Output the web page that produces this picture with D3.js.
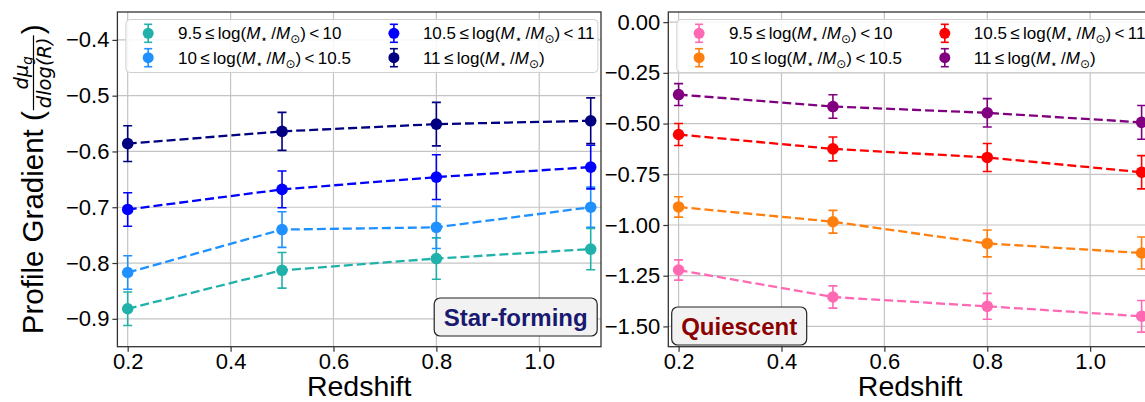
<!DOCTYPE html>
<html>
<head>
<meta charset="utf-8">
<script src="https://cdn.jsdelivr.net/npm/d3@7"></script>
<style>
  html, body { margin: 0; padding: 0; background: #ffffff; }
  svg { display: block; font-family: "Liberation Sans", Arial, sans-serif; }
</style>
</head>
<body>
<svg id="chart" width="1145" height="402"></svg>
<script>
// ---------------- data ----------------
const redshift = [0.2, 0.5, 0.8, 1.1];
const xTicks = [0.2, 0.4, 0.6, 0.8, 1.0];
const sfYTicks = [-0.9, -0.8, -0.7, -0.6, -0.5, -0.4];
const qYTicks = [-1.5, -1.25, -1.0, -0.75, -0.5, -0.25, 0.0];

const massLabels = [
  ["9.5", "10"],
  ["10", "10.5"],
  ["10.5", "11"],
  ["11", null]
];

// star-forming
const sfBin1 = [-0.882, -0.813, -0.792, -0.775];
const sfBin1Err = [0.030, 0.032, 0.037, 0.037];
const sfBin2 = [-0.817, -0.740, -0.736, -0.700];
const sfBin2Err = [0.030, 0.032, 0.038, 0.036];
const sfBin3 = [-0.704, -0.668, -0.646, -0.628];
const sfBin3Err = [0.030, 0.033, 0.040, 0.039];
const sfBin4 = [-0.586, -0.564, -0.551, -0.545];
const sfBin4Err = [0.032, 0.034, 0.039, 0.041];

// quiescent
const qBin1 = [-1.222, -1.355, -1.401, -1.450];
const qBin1Err = [0.050, 0.055, 0.064, 0.078];
const qBin2 = [-0.911, -0.984, -1.091, -1.138];
const qBin2Err = [0.050, 0.056, 0.066, 0.079];
const qBin3 = [-0.554, -0.625, -0.667, -0.740];
const qBin3Err = [0.054, 0.059, 0.069, 0.082];
const qBin4 = [-0.357, -0.416, -0.447, -0.494];
const qBin4Err = [0.054, 0.058, 0.070, 0.083];

const sfColors = ["#20b2aa", "#1e90ff", "#0000ff", "#000080"];
const qColors = ["#ff69b4", "#ff7f0e", "#ff0000", "#800080"];

// ---------------- layout ----------------
const svg = d3.select("#chart");
const TOP = 12, BOTTOM = 346.7, WIDTH = 483.6;
const MINUS = "\u2212";

function fmt(d, digits) {
  const s = Math.abs(d).toFixed(digits);
  return (d < -1e-9 ? MINUS : "") + s;
}

function drawPanel(opt) {
  const g = svg.append("g");
  const x = d3.scaleLinear().domain([0.18, 1.12]).range([opt.left, opt.left + WIDTH]);
  const y = d3.scaleLinear().domain(opt.ydomain).range([BOTTOM, TOP]);

  const clipId = "clip" + opt.id;
  svg.append("clipPath").attr("id", clipId).append("rect")
    .attr("x", opt.left).attr("y", TOP).attr("width", WIDTH).attr("height", BOTTOM - TOP);

  // grid
  g.append("g").selectAll("line").data(xTicks).join("line")
    .attr("x1", d => x(d)).attr("x2", d => x(d)).attr("y1", TOP).attr("y2", BOTTOM)
    .attr("stroke", "#c4c4c4").attr("stroke-width", 1.2);
  g.append("g").selectAll("line").data(opt.yticks).join("line")
    .attr("x1", opt.left).attr("x2", opt.left + WIDTH).attr("y1", d => y(d)).attr("y2", d => y(d))
    .attr("stroke", "#c4c4c4").attr("stroke-width", 1.2);

  // axes via d3
  const xAxis = d3.axisBottom(x).tickValues(xTicks).tickFormat(d => d3.format(".1f")(d))
    .tickSizeOuter(0).tickSize(5).tickPadding(2);
  const gx = g.append("g").attr("transform", `translate(0,${BOTTOM})`).call(xAxis);
  gx.select(".domain").remove();
  gx.selectAll("line").attr("stroke", "#333").attr("stroke-width", 1.2);
  gx.selectAll("text").attr("font-size", 22).attr("fill", "#000")
    .attr("font-family", "Liberation Sans, Arial, sans-serif");

  const yAxis = d3.axisLeft(y).tickValues(opt.yticks).tickFormat(d => fmt(d, opt.digits))
    .tickSizeOuter(0).tickSize(5).tickPadding(3);
  const gy = g.append("g").attr("transform", `translate(${opt.left},0)`).call(yAxis);
  gy.select(".domain").remove();
  gy.selectAll("line").attr("stroke", "#333").attr("stroke-width", 1.2);
  gy.selectAll("text").attr("font-size", 22).attr("fill", "#000")
    .attr("font-family", "Liberation Sans, Arial, sans-serif");

  // series
  const plot = g.append("g").attr("clip-path", `url(#${clipId})`);
  opt.series.forEach((s, i) => {
    const col = opt.colors[i];
    const pts = redshift.map((z, k) => ({ z, v: s.v[k], e: s.e[k] }));
    const line = d3.line().x(d => x(d.z)).y(d => y(d.v));
    const sg = plot.append("g");
    sg.append("path").attr("d", line(pts)).attr("fill", "none")
      .attr("stroke", col).attr("stroke-width", 2.3).attr("stroke-dasharray", "9,4");
    sg.selectAll("line.eb").data(pts).join("line")
      .attr("x1", d => x(d.z)).attr("x2", d => x(d.z))
      .attr("y1", d => y(d.v - d.e)).attr("y2", d => y(d.v + d.e))
      .attr("stroke", col).attr("stroke-width", 1.6);
    ["top", "bot"].forEach(side => {
      sg.selectAll("line.cap" + side).data(pts).join("line")
        .attr("x1", d => x(d.z) - 4.5).attr("x2", d => x(d.z) + 4.5)
        .attr("y1", d => y(side === "top" ? d.v + d.e : d.v - d.e))
        .attr("y2", d => y(side === "top" ? d.v + d.e : d.v - d.e))
        .attr("stroke", col).attr("stroke-width", 1.6);
    });
    sg.selectAll("circle").data(pts).join("circle")
      .attr("cx", d => x(d.z)).attr("cy", d => y(d.v)).attr("r", 5.8).attr("fill", col);
  });

  // frame
  g.append("rect").attr("x", opt.left).attr("y", TOP).attr("width", WIDTH).attr("height", BOTTOM - TOP)
    .attr("fill", "none").attr("stroke", "#333").attr("stroke-width", 1.3);

  // legend
  const lg = g.append("g");
  lg.append("rect").attr("x", opt.left + 8.5).attr("y", 19.5).attr("width", 472).attr("height", 53)
    .attr("rx", 4).attr("fill", "#fff").attr("fill-opacity", 0.85)
    .attr("stroke", "#d0d0d0").attr("stroke-width", 1);
  const cols = [[30.8, 60.6], [276.5, 305.5]];
  const rows = [33.3, 57.7];
  const order = [[0, 0, 0], [1, 0, 1], [2, 1, 0], [3, 1, 1]];
  order.forEach(([si, c, r]) => {
    const col = opt.colors[si];
    const mx = opt.left + cols[c][0], my = rows[r];
    lg.append("line").attr("x1", mx).attr("x2", mx).attr("y1", my - 9).attr("y2", my + 9)
      .attr("stroke", col).attr("stroke-width", 1.6);
    [my - 9, my + 9].forEach(yy => lg.append("line").attr("x1", mx - 4).attr("x2", mx + 4)
      .attr("y1", yy).attr("y2", yy).attr("stroke", col).attr("stroke-width", 1.6));
    lg.append("circle").attr("cx", mx).attr("cy", my).attr("r", 5.5).attr("fill", col);
    const [lo, hi] = massLabels[si];
    const t = lg.append("text").attr("x", opt.left + cols[c][1]).attr("y", my + 6)
      .attr("font-size", 17).attr("fill", "#000");
    t.append("tspan").text(lo + "\u2009\u2264\u2009log(");
    t.append("tspan").attr("font-style", "italic").text("M");
    t.append("tspan").attr("font-size", 12).attr("dy", 4).attr("font-family", "DejaVu Sans").text("\u22c6");
    t.append("tspan").attr("dy", -4).text("\u2009/");
    t.append("tspan").attr("font-style", "italic").text("M");
    t.append("tspan").attr("font-size", 12).attr("dy", 4).attr("font-family", "DejaVu Sans").text("\u2299");
    t.append("tspan").attr("dy", -4).text(")" + (hi ? "\u2009<\u2009" + hi : ""));
  });

  // x label
  g.append("text").attr("x", opt.left + WIDTH / 2).attr("y", 396).attr("text-anchor", "middle")
    .attr("font-size", 28.5).attr("fill", "#000").text("Redshift");

  // badge
  const bx = opt.left + opt.badge.dx, by = opt.badge.y;
  g.append("rect").attr("x", bx).attr("y", by).attr("width", opt.badge.w).attr("height", 38)
    .attr("rx", 6).attr("fill", "#f2f2f2").attr("stroke", "#222").attr("stroke-width", 1.2);
  g.append("text").attr("x", bx + opt.badge.w / 2).attr("y", by + 27.5).attr("text-anchor", "middle")
    .attr("font-size", 24).attr("font-weight", "bold").attr("fill", opt.badge.color).text(opt.badge.text);
  return { x, y };
}

drawPanel({
  id: "sf", left: 117.4, ydomain: [-0.95, -0.35], yticks: sfYTicks, digits: 1,
  colors: sfColors,
  series: [
    { v: sfBin1, e: sfBin1Err }, { v: sfBin2, e: sfBin2Err },
    { v: sfBin3, e: sfBin3Err }, { v: sfBin4, e: sfBin4Err }
  ],
  badge: { dx: 316.8, y: 298, w: 163, text: "Star-forming", color: "#191970" }
});

drawPanel({
  id: "q", left: 668.3, ydomain: [-1.6, 0.05], yticks: qYTicks, digits: 2,
  colors: qColors,
  series: [
    { v: qBin1, e: qBin1Err }, { v: qBin2, e: qBin2Err },
    { v: qBin3, e: qBin3Err }, { v: qBin4, e: qBin4Err }
  ],
  badge: { dx: 3.4, y: 307, w: 135, text: "Quiescent", color: "#8b0000" }
});

// y label with fraction
(function () {
  const cx = 43, cy = (TOP + BOTTOM) / 2;
  const outer = svg.append("g").attr("transform", `translate(${cx},${cy}) rotate(-90)`);
  const inner = outer.append("g");
  const fs = 29.5;
  const t1 = inner.append("text").attr("x", 0).attr("y", 0).attr("font-size", fs).text("Profile Gradient (");
  const w1 = t1.node().getComputedTextLength();
  const ffs = 19.5;
  const num = inner.append("text").attr("y", -15).attr("font-size", ffs)
    .attr("font-family", "DejaVu Sans").attr("font-style", "italic");
  num.append("tspan").text("d\u03bc");
  num.append("tspan").attr("font-size", 13.5).attr("dy", 4).text("g");
  const den = inner.append("text").attr("y", 7.5).attr("font-size", ffs)
    .attr("font-family", "DejaVu Sans").attr("font-style", "italic").text("dlog(R)");
  const wn = num.node().getComputedTextLength();
  const wd = den.node().getComputedTextLength();
  const fw = Math.max(wn, wd) + 4;
  const fx = w1 + 1;
  num.attr("x", fx + (fw - wn) / 2);
  den.attr("x", fx + (fw - wd) / 2);
  inner.append("line").attr("x1", fx).attr("x2", fx + fw).attr("y1", -9.5).attr("y2", -9.5)
    .attr("stroke", "#000").attr("stroke-width", 1.2);
  const t2 = inner.append("text").attr("x", fx + fw + 1).attr("y", 0).attr("font-size", fs).text(")");
  const total = fx + fw + 1 + t2.node().getComputedTextLength();
  inner.attr("transform", `translate(${-total / 2},0)`);
})();
</script>
</body>
</html>
